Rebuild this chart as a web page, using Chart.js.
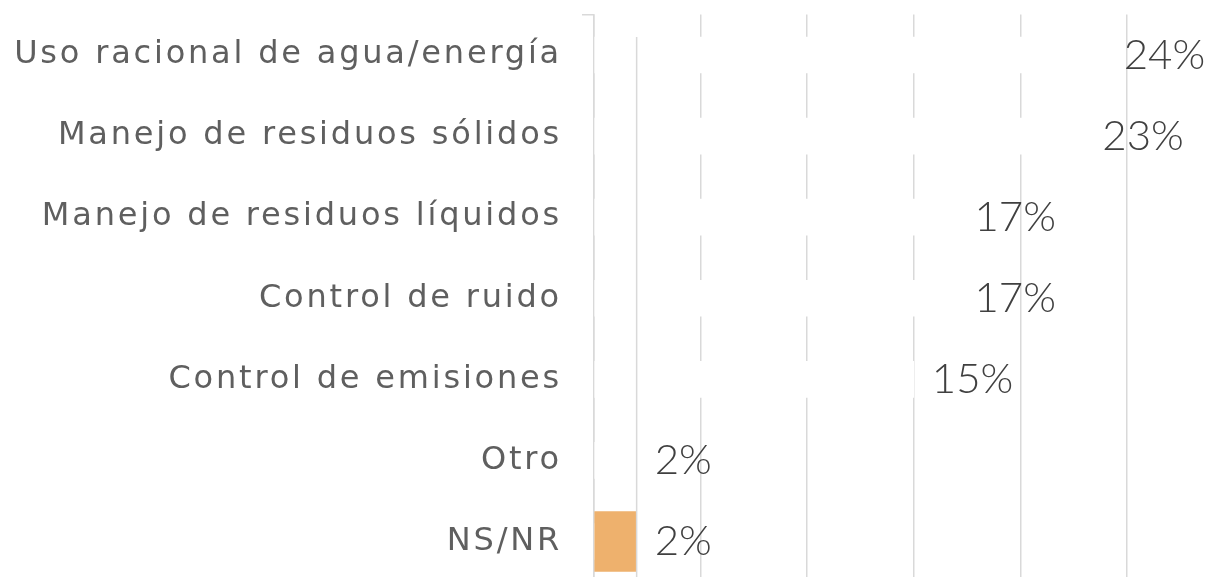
<!DOCTYPE html>
<html>
<head>
<meta charset="utf-8">
<script src="https://cdn.jsdelivr.net/npm/chart.js@4.4.1/dist/chart.umd.min.js"></script>
<style>
  html, body { margin: 0; padding: 0; background: #fff; overflow: hidden; }
  .frame { width: 1217px; height: 577px; overflow: hidden; }
  .frame canvas { display: block; }
</style>
</head>
<body>
<div class="frame"><canvas id="chart" width="1217" height="582"></canvas></div>
<script>
const categories = [
  "Uso racional de agua/energía",
  "Manejo de residuos sólidos",
  "Manejo de residuos líquidos",
  "Control de ruido",
  "Control de emisiones",
  "Otro",
  "NS/NR",
];
const values = [24, 23, 17, 17, 15, 2, 2];
const highlighted = "NS/NR";
const xTicks = [0, 5, 10, 15, 20, 25];
const referenceLine = 2;

const gridColor = "#d9d9d9";

// only the highlighted category gets the orange bar, the rest stay white
const highlightData = values.map((v, i) => (categories[i] === highlighted ? v : null));

/**
 * Century Gothic is not around, so widen the category labels a bit
 */
const spacingPlugin = {
  id: "labelSpacing",
  beforeDraw(chart) {
    chart.ctx.letterSpacing = "2.8px";
  },
  afterDraw(chart) {
    chart.ctx.letterSpacing = "0px";
  },
};

/**
 * Thin vertical line over the bars, from the top of the first bar down
 */
const referencePlugin = {
  id: "referenceLine",
  afterDatasetsDraw(chart) {
    const { ctx, chartArea, scales } = chart;
    const first = chart.getDatasetMeta(0).data[0];
    const x = scales.x.getPixelForValue(referenceLine);
    ctx.save();
    ctx.strokeStyle = gridColor;
    ctx.lineWidth = 1.5;
    ctx.beginPath();
    ctx.moveTo(x, first.y - first.height / 2);
    ctx.lineTo(x, chartArea.bottom);
    ctx.stroke();
    ctx.restore();
  },
};

/**
 * Percent labels to the right of each bar end
 */
const valueLabels = {
  id: "valueLabels",
  afterDatasetsDraw(chart) {
    const { ctx } = chart;
    ctx.save();
    ctx.letterSpacing = "0px";
    ctx.font = "300 42px Lato";
    ctx.fillStyle = "#404040";
    ctx.textAlign = "left";
    ctx.textBaseline = "middle";
    chart.getDatasetMeta(0).data.forEach((bar, i) => {
      ctx.fillText(`${values[i]}%`, bar.x + 18, bar.y);
    });
    ctx.restore();
  },
};

new Chart(document.getElementById("chart"), {
  type: "bar",
  data: {
    labels: categories,
    datasets: [
      {
        data: values,
        backgroundColor: "#ffffff",
        barThickness: 36,
        grouped: false,
        order: 2,
      },
      {
        data: highlightData,
        backgroundColor: "#eeb16d",
        barThickness: 60,
        grouped: false,
        order: 1,
      },
    ],
  },
  options: {
    indexAxis: "y",
    responsive: false,
    animation: false,
    layout: { padding: { top: 14.5, right: 90, bottom: 0, left: 0 } },
    plugins: {
      legend: { display: false },
      tooltip: { enabled: false },
    },
    scales: {
      x: {
        min: 0,
        max: 25,
        afterBuildTicks: (axis) => {
          axis.ticks = xTicks.map((v) => ({ value: v }));
        },
        ticks: { display: false },
        grid: { color: gridColor, lineWidth: 1.5, drawTicks: false },
        border: { display: false },
      },
      y: {
        afterFit: (scale) => {
          scale.width = 594;
          scale.paddingTop = 0;
          scale.paddingBottom = 0;
        },
        grid: {
          drawOnChartArea: false,
          tickLength: 12,
          lineWidth: 1.5,
          tickColor: (c) => (c.index === 0 ? gridColor : "transparent"),
        },
        border: { display: true, color: gridColor, width: 1.5 },
        ticks: {
          padding: 20,
          color: "#5f5f5f",
          font: { family: "DejaVu Sans", size: 32, weight: 400 },
        },
      },
    },
  },
  plugins: [spacingPlugin, referencePlugin, valueLabels],
});
</script>
</body>
</html>
